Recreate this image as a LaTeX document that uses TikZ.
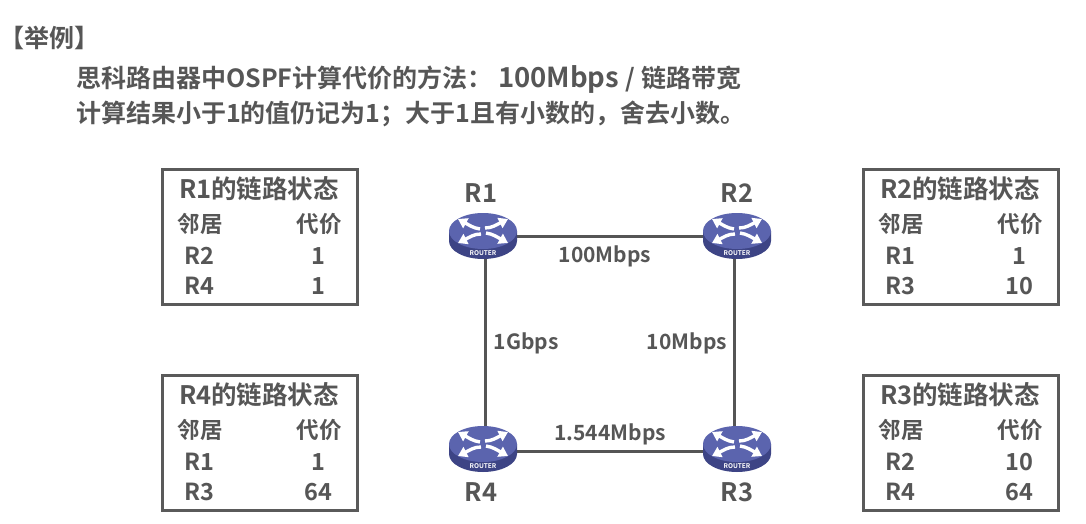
\documentclass[tikz,border=0pt]{standalone}
\usepackage{fontspec}
\setmainfont{Noto Sans CJK SC}[BoldFont={Noto Sans CJK SC Bold}]
\usetikzlibrary{shapes.geometric,calc,arrows.meta}
\definecolor{txt}{HTML}{565656}
\definecolor{boxc}{HTML}{5A5A5A}
\definecolor{linec}{HTML}{555555}
\definecolor{rtop}{HTML}{5B64AE}
\definecolor{rside}{HTML}{3D4485}
\tikzset{
  x=1pt,y=-1pt,
  lab/.style={text=txt,font=\fontsize{21}{21}\selectfont\bfseries,inner sep=0pt,anchor=center},
  rowlab/.style={lab,font=\fontsize{23.5}{23.5}\selectfont\bfseries},
  sublab/.style={lab,font=\fontsize{22.5}{22.5}\selectfont\bfseries},
  rtitle/.style={lab,font=\fontsize{25.5}{25.5}\selectfont\bfseries},
  head/.style={lab,anchor=west,font=\fontsize{25}{25}\selectfont\bfseries},
  tbox/.style={draw=boxc,line width=3pt,fill=none,rectangle,inner sep=0pt,minimum width=195pt,minimum height=135pt,anchor=north west},
  rnode/.style={ellipse,inner sep=0pt,minimum width=68pt,minimum height=46pt},
  wire/.style={draw=linec,line width=3pt},
  rarrow/.style={white,line width=3.4pt,-{Triangle[length=9pt,width=11pt]}},
}
\newcommand{\routerart}[1]{%
  \begin{scope}[shift={(#1)}]
    \fill[rside] (-34,0) -- (-34,10) arc[start angle=180,end angle=0,x radius=34,y radius=18] -- (34,0) -- cycle;
    \fill[rtop] (0,0) ellipse[x radius=34,y radius=18];
    \draw[rarrow] (-3,-2) .. controls (-10,-3) and (-14,-6) .. (-25,-12);
    \draw[rarrow] (2,-3) .. controls (9,-3) and (13,-6) .. (25,-12);
    \draw[rarrow] (-2,3) .. controls (-9,3) and (-13,6) .. (-25,12);
    \draw[rarrow] (3,2) .. controls (10,3) and (14,6) .. (25,12);
    \node[text=white,font=\fontsize{6.5}{6.5}\selectfont\bfseries,inner sep=0pt] at (0,22.5) {ROUTER};
  \end{scope}}
\newcommand{\statetable}[8]{%
  \node[tbox] (#1) at (#2,#3) {};
  \node[rtitle] (#1t) at ($(#2,#3)+(98,21)$) {#4};
  \node[sublab] (#1a) at ($(#2,#3)+(39,56)$) {邻居};
  \node[sublab] (#1b) at ($(#2,#3)+(158,56)$) {代价};
  \node[rowlab] (#1c) at ($(#2,#3)+(38,88)$) {#5};
  \node[rowlab] (#1d) at ($(#2,#3)+(157,88)$) {#6};
  \node[rowlab] (#1e) at ($(#2,#3)+(38,118)$) {#7};
  \node[rowlab] (#1f) at ($(#2,#3)+(157,118)$) {#8};
}
\begin{document}
\begin{tikzpicture}
\useasboundingbox (0,0) rectangle (1086,524);
\fill[white] (0,0) rectangle (1086,524);
\node[head] (h0) at (-1,38) {【举例】};
\node[head] (h1) at (76,79) {思科路由器中OSPF计算代价的方法： {\fontsize{27.5}{27.5}\selectfont 100Mbps}\hspace{1pt} / 链路带宽};
\node[head] (h2) at (76,114) {计算结果小于1的值仍记为1；大于1且有小数的，舍去小数。};

\statetable{ta}{161}{168}{R1的链路状态}{R2}{1}{R4}{1}
\statetable{tb}{862}{168}{R2的链路状态}{R1}{1}{R3}{10}
\statetable{tc}{161}{374}{R4的链路状态}{R1}{1}{R3}{64}
\statetable{td}{862}{374}{R3的链路状态}{R2}{10}{R4}{64}

\node[rnode] (r1) at (483,231) {};
\node[rnode] (r2) at (737,231) {};
\node[rnode] (r3) at (737,444) {};
\node[rnode] (r4) at (483,444) {};
\draw[wire] ($(r1.center)+(0,5)$) -- ($(r2.center)+(0,5)$);
\draw[wire] ($(r4.center)+(0,7)$) -- ($(r3.center)+(0,7)$);
\draw[wire] ($(r1.center)+(2,0)$) -- ($(r4.center)+(2,0)$);
\draw[wire] ($(r2.center)+(-3,0)$) -- ($(r3.center)+(-3,0)$);
\routerart{r1.center}
\routerart{r2.center}
\routerart{r3.center}
\routerart{r4.center}
\node[rtitle] (n1) at (481,193) {R1};
\node[rtitle] (n2) at (737,193) {R2};
\node[rtitle] (n3) at (737,492) {R3};
\node[rtitle] (n4) at (481,492) {R4};
\node[lab] (e1) at (605,256.5) {100Mbps};
\node[lab] (e2) at (526,343.5) {1Gbps};
\node[lab] (e3) at (687,343.5) {10Mbps};
\node[lab] (e4) at (610,434.5) {1.544Mbps};
\end{tikzpicture}
\end{document}
